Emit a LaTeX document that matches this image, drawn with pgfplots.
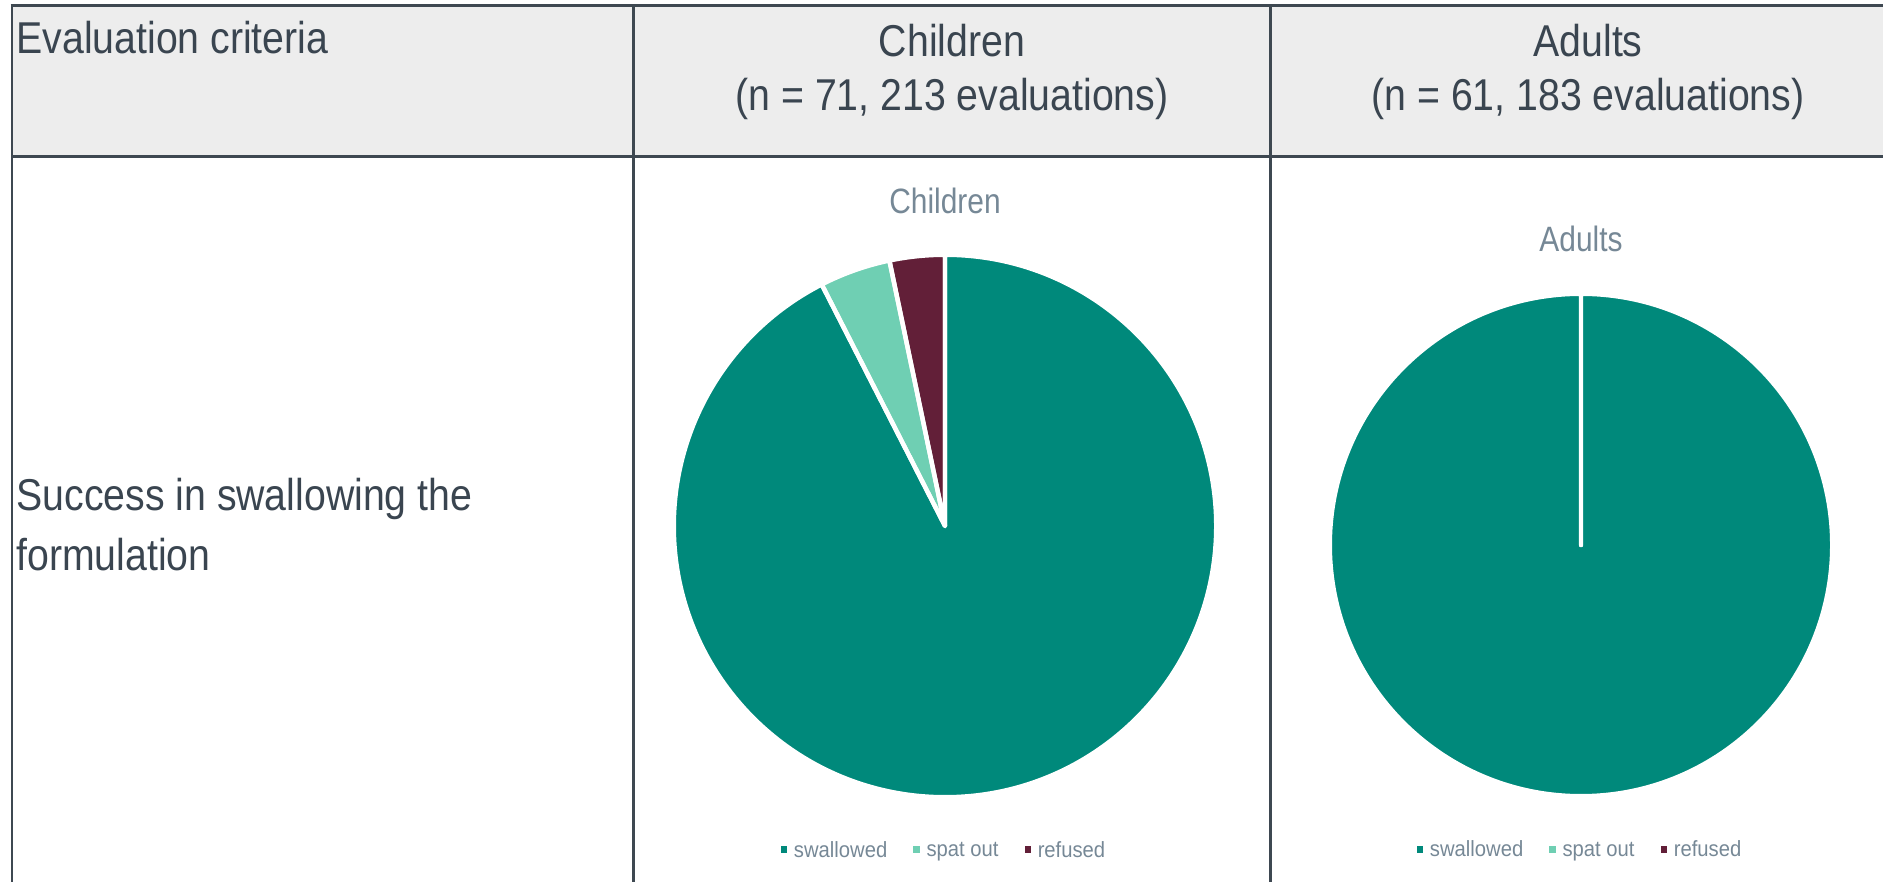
\documentclass[border=0pt]{standalone}
\usepackage{pgfplots}
\pgfplotsset{compat=1.18}
\usepackage{pgfplotstable}
\usepackage{fontspec}
\setmainfont{Liberation Sans}[FakeStretch=0.88]
\newfontfamily\titfont{Liberation Sans}[FakeStretch=0.85]
\newfontfamily\legfont{Liberation Sans}[FakeStretch=0.92]
\definecolor{cSwal}{HTML}{00897B}
\definecolor{cSpat}{HTML}{6FCFB3}
\definecolor{cRef}{HTML}{621F38}
\definecolor{txt}{HTML}{3A4550}
\definecolor{gridc}{HTML}{3E4851}
\definecolor{hdr}{HTML}{EDEDED}
\definecolor{sub}{HTML}{768896}

\pgfplotstableread{
category count
swallowed 197
spat 9
refused 7
}\childdata
\pgfplotstableread{
category count
swallowed 183
spat 0
refused 0
}\adultdata

\newcommand\hdrfont{\fontsize{22.3}{26}\selectfont}

\pgfplotsset{
  pieaxis/.style={
    x=0.5pt, y=0.5pt, hide axis, clip=false,
    title style={anchor=base, inner sep=0pt, text=sub, font=\titfont\fontsize{17.6}{20}\selectfont},
    legend columns=3,
    legend style={draw=none, fill=none, text=sub, font=\legfont\fontsize{11}{12}\selectfont,
      anchor=center, nodes={inner sep=2pt},
      /tikz/every even column/.append style={column sep=11pt}},
    legend image code/.code={\fill[##1] (0pt,-1.4pt) rectangle (3.2pt,2.4pt); \path (4.6pt,0pt);},
  }
}

\begin{document}
\begin{tikzpicture}[x=0.5pt,y=0.5pt]
\pgfplotstablegetelem{0}{count}\of\childdata \edef\cA{\pgfplotsretval}
\pgfplotstablegetelem{1}{count}\of\childdata \edef\cB{\pgfplotsretval}
\pgfplotstablegetelem{2}{count}\of\childdata \edef\cC{\pgfplotsretval}
\pgfmathsetmacro\cT{\cA+\cB+\cC}
\pgfmathsetmacro\cEa{90-360*(\cA/\cT)}
\pgfmathsetmacro\cEb{90-360*((\cA+\cB)/\cT)}
\pgfmathsetmacro\cEc{90-360*((\cA+\cB+\cC)/\cT)}
\pgfplotstablegetelem{0}{count}\of\adultdata \edef\aA{\pgfplotsretval}
\pgfplotstablegetelem{1}{count}\of\adultdata \edef\aB{\pgfplotsretval}
\pgfplotstablegetelem{2}{count}\of\adultdata \edef\aC{\pgfplotsretval}
\pgfmathsetmacro\aT{\aA+\aB+\aC}
\pgfmathsetmacro\aEa{90-360*(\aA/\aT)}
\pgfmathsetmacro\aEb{90-360*((\aA+\aB)/\aT)}
\pgfmathsetmacro\aEc{90-360*((\aA+\aB+\aC)/\aT)}

\useasboundingbox (0,0) rectangle (1883,882);
% header background
\fill[hdr] (12,876.5) rectangle (1883,725);
% table lines
\draw[gridc, line width=1.3pt] (10.7,876.5) -- (1883,876.5);
\draw[gridc, line width=1.3pt] (12,877.8) -- (12,0);
\draw[gridc, line width=1.5pt] (12,725) -- (1883,725);
\draw[gridc, line width=1.2pt] (633.3,877) -- (633.3,0);
\draw[gridc, line width=1.2pt] (1270.3,877) -- (1270.3,0);
% header texts
\node[anchor=base west, inner sep=0pt, text=txt, font=\hdrfont] at (16,828) {Evaluation criteria};
\node[anchor=base, inner sep=0pt, text=txt, font=\hdrfont] at (952,825) {Children};
\node[anchor=base, inner sep=0pt, text=txt, font=\hdrfont] at (952,771) {(n = 71, 213 evaluations)};
\node[anchor=base, inner sep=0pt, text=txt, font=\hdrfont] at (1588,825) {Adults};
\node[anchor=base, inner sep=0pt, text=txt, font=\hdrfont] at (1588,771) {(n = 61, 183 evaluations)};
\node[anchor=base west, inner sep=0pt, text=txt, font=\hdrfont] at (16,371) {Success in swallowing the};
\node[anchor=base west, inner sep=0pt, text=txt, font=\hdrfont] at (16,311) {formulation};

% Children pie
\begin{axis}[pieaxis, at={(945,356)}, anchor=center,
  xmin=-270, xmax=270, ymin=-270, ymax=270,
  title={Children}, title style={at={(0.5,1.0556)}},
  legend style={at={(0.5,-0.101)}}]
\addlegendimage{fill=cSwal, draw=none}\addlegendentry{swallowed}
\addlegendimage{fill=cSpat, draw=none}\addlegendentry{spat out}
\addlegendimage{fill=cRef, draw=none}\addlegendentry{refused}
\fill[cSwal] (axis cs:0,0) -- ++(90:135.6pt) arc[start angle=90, end angle=\cEa, radius=135.6pt] -- cycle;
\fill[cSpat] (axis cs:0,0) -- ++(\cEa:135.6pt) arc[start angle=\cEa, end angle=\cEb, radius=135.6pt] -- cycle;
\fill[cRef] (axis cs:0,0) -- ++(\cEb:135.6pt) arc[start angle=\cEb, end angle=\cEc, radius=135.6pt] -- cycle;
\draw[white, line width=2.2pt, line join=round] (axis cs:0,0) -- ++(90:135.6pt) arc[start angle=90, end angle=\cEa, radius=135.6pt] -- cycle;
\draw[white, line width=2.2pt, line join=round] (axis cs:0,0) -- ++(\cEa:135.6pt) arc[start angle=\cEa, end angle=\cEb, radius=135.6pt] -- cycle;
\draw[white, line width=2.2pt, line join=round] (axis cs:0,0) -- ++(\cEb:135.6pt) arc[start angle=\cEb, end angle=\cEc, radius=135.6pt] -- cycle;
\end{axis}

% Adults pie
\begin{axis}[pieaxis, at={(1581,337)}, anchor=center,
  xmin=-250, xmax=250, ymin=-250, ymax=250,
  title={Adults}, title style={at={(0.5,1.062)}},
  legend style={at={(0.5,-0.111)}}]
\addlegendimage{fill=cSwal, draw=none}\addlegendentry{swallowed}
\addlegendimage{fill=cSpat, draw=none}\addlegendentry{spat out}
\addlegendimage{fill=cRef, draw=none}\addlegendentry{refused}
\fill[cSwal] (axis cs:0,0) -- ++(90:125.6pt) arc[start angle=90, end angle=\aEa, radius=125.6pt] -- cycle;
\fill[cSpat] (axis cs:0,0) -- ++(\aEa:125.6pt) arc[start angle=\aEa, end angle=\aEb, radius=125.6pt] -- cycle;
\fill[cRef] (axis cs:0,0) -- ++(\aEb:125.6pt) arc[start angle=\aEb, end angle=\aEc, radius=125.6pt] -- cycle;
\draw[white, line width=2.2pt, line join=round] (axis cs:0,0) -- ++(90:125.6pt) arc[start angle=90, end angle=\aEa, radius=125.6pt] -- cycle;
\draw[white, line width=2.2pt, line join=round] (axis cs:0,0) -- ++(\aEa:125.6pt) arc[start angle=\aEa, end angle=\aEb, radius=125.6pt] -- cycle;
\draw[white, line width=2.2pt, line join=round] (axis cs:0,0) -- ++(\aEb:125.6pt) arc[start angle=\aEb, end angle=\aEc, radius=125.6pt] -- cycle;
\end{axis}
\end{tikzpicture}
\end{document}
